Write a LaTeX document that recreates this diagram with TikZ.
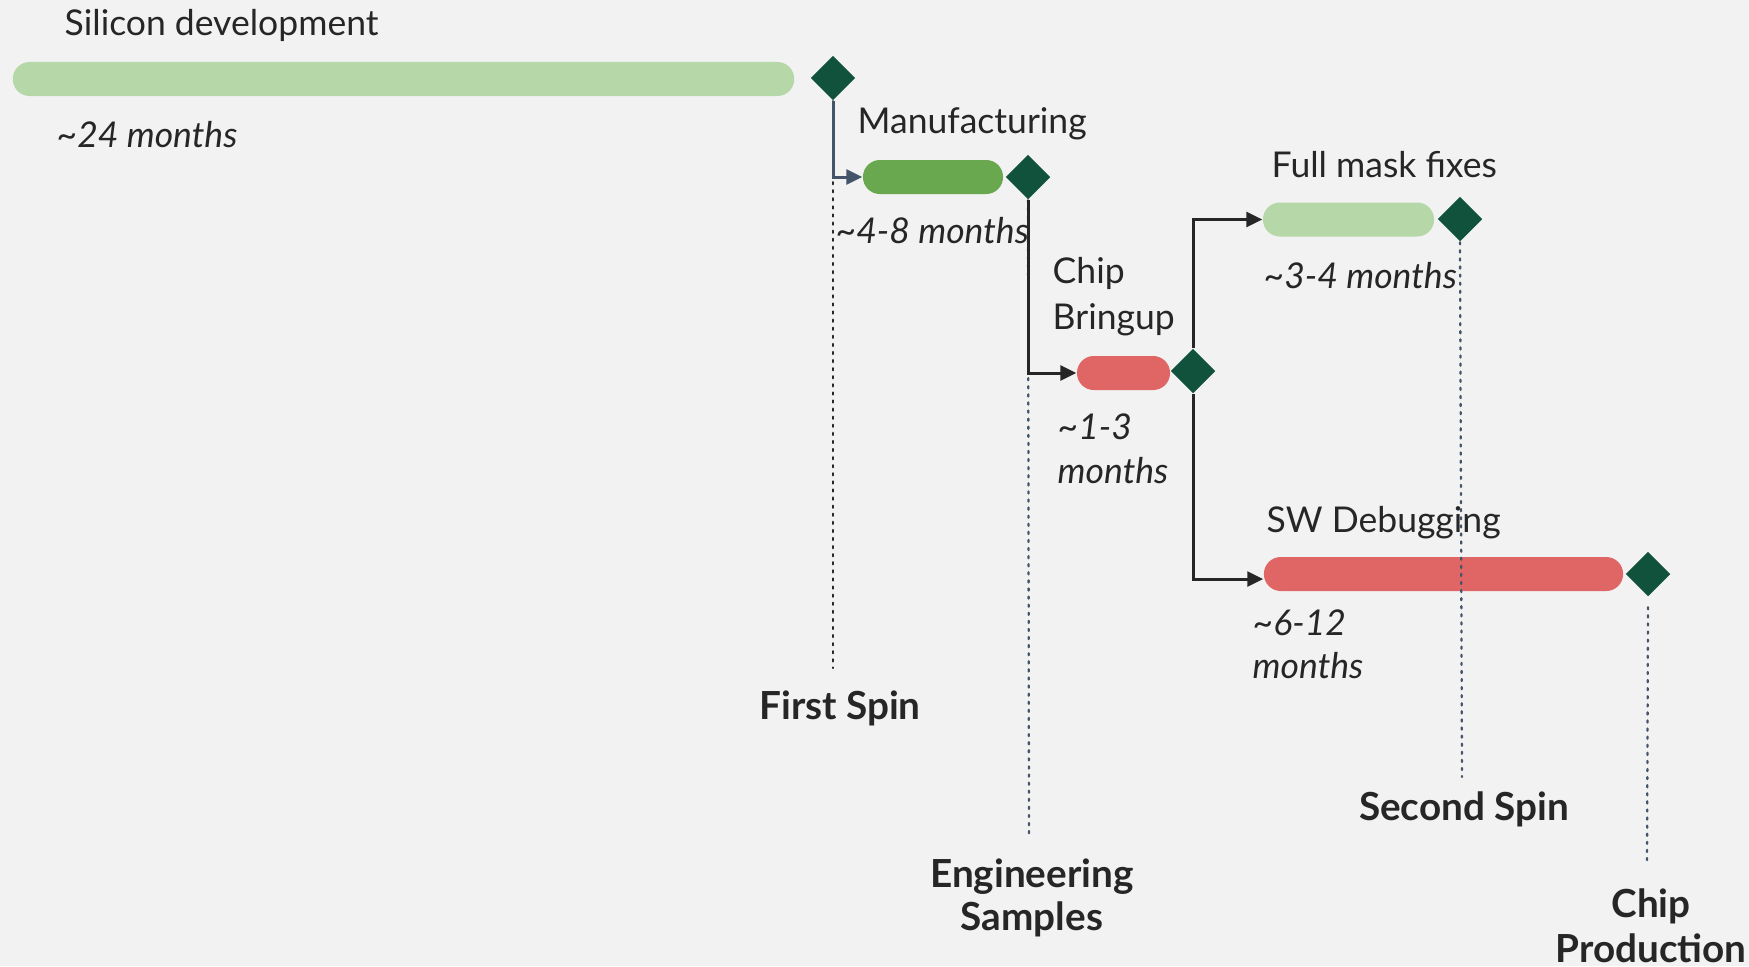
\documentclass[tikz,border=0pt]{standalone}
\usepackage{fontspec}
\setmainfont{Lato}
\usetikzlibrary{arrows.meta,shapes.geometric}
\definecolor{bg}{HTML}{F2F2F2}
\definecolor{lightgreen}{HTML}{B6D7A8}
\definecolor{midgreen}{HTML}{6AA84F}
\definecolor{redbar}{HTML}{E06666}
\definecolor{milestone}{HTML}{11523D}
\definecolor{ink}{HTML}{262626}
\definecolor{slate}{HTML}{44546A}
\tikzset{
  bar/.style={rectangle, rounded corners=4.8pt, minimum height=0.34cm, inner sep=0pt},
  mile/.style={diamond, fill=milestone, minimum width=0.45cm, minimum height=0.45cm, inner sep=0pt},
  task/.style={anchor=base west, inner sep=0pt, text=ink, font=\fontsize{10.1pt}{12pt}\selectfont},
  dur/.style={anchor=base west, inner sep=0pt, text=ink, font=\fontsize{10.1pt}{12pt}\selectfont\itshape},
  phase/.style={anchor=base, inner sep=0pt, text=ink, font=\fontsize{11pt}{13pt}\selectfont\bfseries},
  link/.style={line width=0.85pt, -{Triangle[length=4.5pt,width=4.2pt]}},
  guide/.style={line width=0.65pt, dash pattern=on 0.6pt off 1.7pt, line cap=round}
}
\begin{document}
\begin{tikzpicture}[x=0.01cm, y=-0.01cm]
\fill[bg] (0,0) rectangle (1749,966);
\useasboundingbox (0,0) rectangle (1749,966);

% task bars
\node[bar, fill=lightgreen, minimum width=7.81cm] (sil)  at (403.5,79)  {};
\node[bar, fill=midgreen,   minimum width=1.40cm] (man)  at (933,177)   {};
\node[bar, fill=redbar,     minimum width=0.93cm] (bring) at (1123.5,373) {};
\node[bar, fill=lightgreen, minimum width=1.71cm] (mask) at (1348.5,219.5) {};
\node[bar, fill=redbar,     minimum width=3.59cm] (sw)   at (1443.5,574) {};

% milestones
\node[mile] (m1) at (833,78) {};
\node[mile] (m2) at (1028,177) {};
\node[mile] (m3) at (1193,371) {};
\node[mile] (m4) at (1460,219) {};
\node[mile] (m5) at (1648,574) {};

% guide lines down to the phase labels
\coordinate (g1) at (833,668);
\coordinate (g2) at (1029,839);
\coordinate (g4) at (1462,777);
\coordinate (g5) at (1647,863);
\draw[guide, ink]   (m1.south) -- (g1);
\draw[guide, slate] (m2.south) -- (g2);
\draw[guide, slate] (m4.south) -- (g4);
\draw[guide, slate] ([yshift=-0.1cm]m5.south) -- (g5);

% dependencies
\draw[link, slate] (m1.south) |- (man.west);
\draw[link, ink]   (m2.south) |- (bring.west);
\draw[link, ink]   (m3.north) |- (mask.west);
\draw[link, ink]   (m3.south) |- ([yshift=-0.05cm]sw.west);

% task names
\node[task] (t1)  at (64,35)    {Silicon development};
\node[task] (t2)  at (857,133)  {Manufacturing};
\node[task] (t3a) at (1052,283) {Chip};
\node[task] (t3b) at (1052,329) {Bringup};
\node[task] (t4)  at (1271,177) {Full mask fixes};
\node[task] (t5)  at (1266,532) {SW Debugging};

% durations
\node[dur] (d1)  at (56,147)   {\textasciitilde24 months};
\node[dur] (d2)  at (835,243)  {\textasciitilde4-8 months};
\node[dur] (d3a) at (1057,439) {\textasciitilde1-3};
\node[dur] (d3b) at (1057,483) {months};
\node[dur] (d4)  at (1263,288) {\textasciitilde3-4 months};
\node[dur] (d5a) at (1252,635) {\textasciitilde6-12};
\node[dur] (d5b) at (1252,678) {months};

% phases
\node[phase] (p1)  at (840,719)  {First Spin};
\node[phase] (p2a) at (1032,887) {Engineering};
\node[phase] (p2b) at (1032,930) {Samples};
\node[phase] (p3)  at (1464,820) {Second Spin};
\node[phase] (p4a) at (1651,917) {Chip};
\node[phase] (p4b) at (1651,962) {Production};
\end{tikzpicture}
\end{document}
